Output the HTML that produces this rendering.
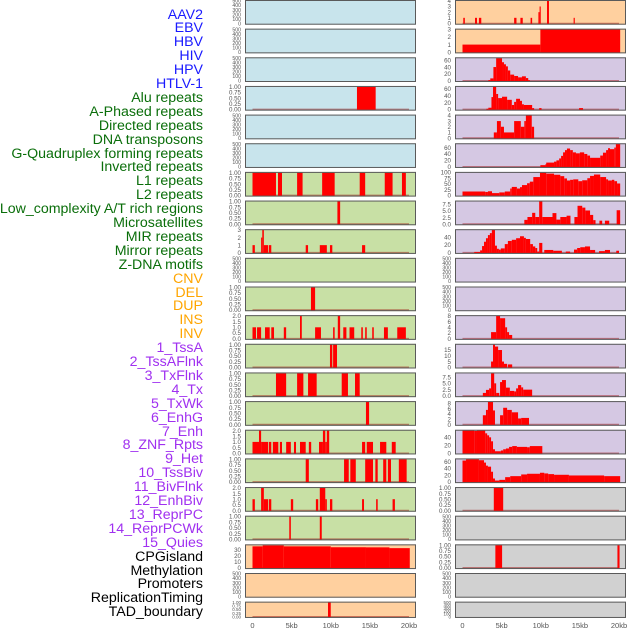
<!DOCTYPE html>
<html><head><meta charset="utf-8"><style>
html,body{margin:0;padding:0;background:#fff;}
body{width:630px;height:630px;overflow:hidden;position:relative;font-family:"Liberation Sans",sans-serif;}
.lab{position:absolute;right:427px;font-size:14.2px;line-height:14px;white-space:nowrap;text-align:right;}
svg{position:absolute;left:0;top:0;}
</style></head><body>
<div id="labels"></div>
<svg id="chart" width="630" height="630"></svg>
<script>
// ---- labels ----
const labelNames = ["AAV2","EBV","HBV","HIV","HPV","HTLV-1","Alu repeats","A-Phased repeats","Directed repeats","DNA transposons","G-Quadruplex forming repeats","Inverted repeats","L1 repeats","L2 repeats","Low_complexity A/T rich regions","Microsatellites","MIR repeats","Mirror repeats","Z-DNA motifs","CNV","DEL","DUP","INS","INV","1_TssA","2_TssAFlnk","3_TxFlnk","4_Tx","5_TxWk","6_EnhG","7_Enh","8_ZNF_Rpts","9_Het","10_TssBiv","11_BivFlnk","12_EnhBiv","13_ReprPC","14_ReprPCWk","15_Quies","CPGisland","Methylation","Promoters","ReplicationTiming","TAD_boundary"];
const labelGroups = [6,13,5,15,5];
const groupColors = ["#1a1aff","#0a6e0a","#ffa500","#a030f0","#000000"];

// ---- data: [start_kb, end_kb, value] ----
const L3_alu = [[13.35,15.74,1]];
const L6_l1 = [[0,3.0,1],[3.26,3.77,1],[5.7,6.4,1],[8.9,10.5,1],[13.7,14.4,1],[16.9,17.9,1],[19.1,19.6,1]];
const L7_lowc = [[10.85,11.2,1]];
const L8_micro = [[0,0.3,1],[1.1,1.25,2],[1.25,1.45,3],[1.45,2.0,1],[2.1,2.4,1],[6.8,7.1,1],[8.6,9.5,1],[9.9,10.2,1],[14.0,14.4,1]];
const L10_cnv = [[7.47,8.0,1]];
const L11_dup = [[0,0.45,1],[0.58,1.1,1],[1.6,2.2,1],[2.4,2.75,1],[4.0,4.3,1],[6.07,6.3,2],[8.0,8.75,1],[10.3,10.5,1],[10.9,11.2,2],[11.6,12.0,1],[12.4,13.0,1],[13.9,14.1,1],[14.4,14.6,1],[15.3,15.5,1],[16.8,17.3,1],[18.5,19.6,1]];
const L12_ins = [[9.9,10.2,1],[10.3,10.8,1]];
const L13_inv = [[3.0,4.3,1],[5.7,6.5,1],[7.1,8.2,1],[11.4,12.2,1],[13.1,13.7,1]];
const L14_tssa = [[14.5,14.9,1]];
const L15_tssaf = [[0,0.83,1],[0.83,1.1,2],[1.1,2.0,1],[2.1,2.4,1],[2.6,3.3,1],[3.5,3.77,1],[4.3,4.9,1],[5.3,5.56,1],[6.07,6.8,1],[7.2,7.5,1],[8.5,9.0,1],[9.0,9.3,2],[9.3,9.5,1],[9.5,9.8,2],[14.0,14.4,1],[14.6,15.4,1],[16.3,17.1,1],[17.8,18.3,1]];
const L16_txflnk = [[6.8,7.2,1],[11.7,12.3,1],[12.5,13.2,1],[14.4,15.4,1],[15.7,16.0,1],[16.7,17.1,1],[17.3,17.7,1],[18.7,19.7,1]];
const L17_tx = [[0,0.3,1],[1.1,1.45,2],[1.45,2.0,1],[2.1,2.4,1],[4.9,5.2,1],[8.1,8.4,1],[8.6,9.3,2],[9.3,9.5,1],[9.9,10.2,1],[14.0,14.25,1],[15.8,16.0,1],[17.9,18.2,1]];
const L18_txwk = [[4.7,4.9,1],[8.6,8.85,1]];
const L19_cpg = [[0,1.3,36],[1.3,4.0,37.5],[4.0,10.0,36],[10.0,14.5,34.5],[14.5,17.5,34.3],[17.5,20.1,33]];
const L21_tad = [[9.65,10.0,1]];

const R0_aav2 = [[0.1,0.3,1],[1.6,1.85,1],[2.1,2.4,1],[6.6,6.9,1],[7.4,7.7,1],[8.7,8.9,1],[9.7,9.85,2],[9.85,10.0,3],[10.8,11.05,4],[14.2,14.35,1]];
const R1_ebv = [[0,9.95,1],[9.95,20.15,3]];
const R2_hiv = [[3.3,3.55,2],[3.55,3.95,7],[3.95,4.3,40],[4.3,5.05,66],[5.05,5.3,54],[5.3,5.55,48],[5.55,5.8,42],[5.8,6.1,30],[6.1,6.6,18],[6.6,7.1,14],[7.1,7.6,10],[7.6,8.1,13],[8.1,8.4,8],[8.4,8.6,2]];
const R3_hpv = [[3.05,3.3,2],[3.3,3.7,5],[3.7,3.9,36],[3.9,4.3,66],[4.3,4.55,45],[4.55,5.05,33],[5.05,5.7,37],[5.7,6.3,28],[6.3,6.6,13],[6.6,6.85,22],[6.85,7.35,31],[7.35,7.6,25],[7.6,7.85,15],[7.85,8.9,13],[8.9,9.15,4],[9.8,10.1,4],[14.9,15.4,4]];
const R4_htlv = [[4.0,4.4,1],[4.4,4.9,3],[4.9,5.3,2],[5.3,5.75,1],[5.75,6.6,1],[6.6,7.45,3],[7.45,7.9,2],[7.9,8.1,3],[8.1,8.85,4],[8.85,9.15,2]];
const R5_alu = [[9.95,10.6,5],[10.6,10.7,8],[10.7,11.7,13],[11.7,12.0,16],[12.0,12.35,20],[12.35,12.6,26],[12.6,12.85,34],[12.85,13.1,45],[13.1,13.35,52],[13.35,13.75,57],[13.75,14.1,52],[14.1,14.5,45],[14.5,15.0,42],[15.0,15.55,45],[15.55,15.95,40],[15.95,16.3,35],[16.3,17.6,28],[17.6,17.95,35],[17.95,18.35,44],[18.35,18.6,52],[18.6,18.85,58],[18.85,19.4,55],[19.4,19.6,60],[19.6,20.15,71]];
const R6_l1 = [[0,2.9,17],[2.9,3.25,15],[3.25,3.77,18],[3.77,4.7,10],[4.7,5.4,13],[5.4,6.1,17],[6.1,6.3,30],[6.3,6.95,37],[6.95,7.35,30],[7.35,7.6,36],[7.6,8.25,45],[8.25,8.6,53],[8.6,9.05,60],[9.05,9.9,80],[9.9,10.7,99],[10.7,11.7,95],[11.7,12.5,90],[12.5,13.0,84],[13.0,13.35,74],[13.35,13.75,65],[13.75,14.15,68],[14.15,14.8,70],[14.8,15.3,62],[15.3,15.95,66],[15.95,16.3,75],[16.3,16.8,85],[16.8,17.6,91],[17.6,18.35,80],[18.35,18.6,70],[18.6,19.1,65],[19.1,19.4,68],[19.4,19.75,62],[19.75,20.15,52]];
const R7_lowc = [[7.9,8.3,1.6],[8.3,8.9,2.7],[8.9,9.3,4.3],[9.3,9.8,2.7],[9.8,10.2,8.7],[10.2,11.5,2.7],[11.5,12.0,4.2],[12.0,12.5,1.7],[12.5,13.3,2.7],[13.3,13.8,3.2],[14.3,14.7,2.7],[14.7,15.3,7],[15.3,15.7,6.3],[15.7,16.3,5.2],[16.3,16.7,3.5],[16.7,17.0,1.5],[17.5,17.85,1.3],[18.2,18.75,1.3],[19.7,20.15,5.3]];
const R8_mir = [[1.5,2.25,2],[2.25,2.5,6],[2.5,2.75,17],[2.75,3.0,28],[3.0,3.25,37],[3.25,3.5,45],[3.5,3.75,50],[3.75,4.15,58],[4.15,4.4,18],[4.4,4.65,10],[4.65,4.9,8],[4.9,5.4,11],[5.4,5.8,22],[5.8,6.3,30],[6.3,6.85,33],[6.85,7.35,37],[7.35,7.85,42],[7.85,8.1,38],[8.1,8.65,35],[8.65,9.0,22],[9.0,9.3,16],[9.3,9.55,12],[9.55,9.8,3],[9.8,10.2,25],[10.45,11.6,7],[11.6,12.7,5],[13.2,13.75,3],[14.25,14.65,8],[14.65,15.05,12],[15.05,15.65,14],[15.65,16.3,16],[16.3,16.95,7],[17.45,18.2,4],[18.2,18.85,7],[19.65,20.0,5]];
const R11_tssa = [[3.65,4.3,2.3],[4.3,4.8,8],[4.8,5.45,7.2],[5.45,5.7,4],[5.7,5.95,2.3],[5.95,6.35,1.3]];
const R12_tssaf = [[3.65,3.9,5],[3.9,4.15,19.7],[4.15,4.55,18],[4.55,5.05,15],[5.05,5.3,5],[5.3,5.7,3],[5.8,6.35,2.5]];
const R13_txflnk = [[2.6,3.0,1.2],[3.0,3.4,2.4],[3.4,3.65,3],[3.65,4.05,9],[4.05,4.3,5],[4.3,4.7,1.2],[4.8,5.05,5.5],[5.05,5.55,6.3],[5.55,6.05,3.3],[6.05,6.6,2],[6.6,6.85,1.8],[6.85,7.1,3],[7.1,7.5,4.3],[7.5,7.75,3.4],[7.75,8.9,2.5]];
const R14_tx = [[2.6,3.0,3.5],[3.0,3.25,5.5],[3.25,3.9,8.5],[3.9,4.15,5.3],[4.8,5.2,3.5],[5.2,5.7,6.3],[5.7,6.3,5.5],[6.3,7.1,4.6],[7.1,7.5,2.3],[7.5,8.5,2.5]];
const R15_txwk = [[0,1.5,57],[1.5,1.85,56],[1.85,2.9,57],[2.9,3.15,50],[3.15,3.4,45],[3.4,3.65,40],[3.65,3.9,30],[3.9,4.15,10],[4.15,4.9,5],[4.9,5.2,7],[5.2,5.55,10],[5.55,5.95,12],[5.95,6.35,16],[6.35,6.95,18],[6.95,8.25,16],[8.25,8.6,15],[8.6,10.2,18]];
const R16_enhg = [[0,0.45,63],[0.45,2.1,67],[2.1,2.75,64],[2.75,3.0,57],[3.0,3.25,48],[3.25,3.65,45],[3.65,3.9,30],[3.9,4.15,10],[4.15,4.7,4],[4.7,5.45,6],[5.45,6.1,14],[6.1,7.5,17],[7.5,8.25,22],[8.25,9.9,24],[9.9,10.45,27],[10.45,10.95,25],[10.95,11.7,23],[11.7,13.6,21],[13.6,18.1,19],[18.1,20.15,17]];
const R17_enh = [[4.0,5.2,1]];
const R19_het = [[4.2,5.06,1],[19.8,20.07,1]];

// ---- tick label arrays ----
const T_empty = [0,100,200,300,400,500];
const T_frac = [0,0.25,0.5,0.75,1];
const T_half = [0,0.5,1,1.5,2];
const T_int3 = [0,1,2,3];
const T_int4 = [0,1,2,3,4];
const T_60 = [0,20,40,60];
const T_40 = [0,20,40];
const T_100 = [0,25,50,75,100];
const T_75 = [0,2.5,5,7.5];
const T_8 = [0,2,4,6,8];
const T_15 = [0,5,10,15];
const T_30 = [0,10,20,30];
const xTickVals = [0,5,10,15,20];
const xTickText = ["0","5kb","10kb","15kb","20kb"];

const BG = {blue:"#c8e4ec",green:"#c8e0a5",orange:"#ffd09f",purple:"#d5c8e3",gray:"#d1d1d1"};
const leftPanels = [
 ["blue",null,T_empty,0,500],["blue",null,T_empty,0,500],["blue",null,T_empty,0,500],
 ["blue",L3_alu,T_frac,2,1],["blue",null,T_empty,0,500],["blue",null,T_empty,0,500],
 ["green",L6_l1,T_frac,2,1],["green",L7_lowc,T_frac,2,1],["green",L8_micro,T_int3,0,3],
 ["green",null,T_empty,0,500],["green",L10_cnv,T_frac,2,1],["green",L11_dup,T_half,1,2],
 ["green",L12_ins,T_frac,2,1],["green",L13_inv,T_frac,2,1],["green",L14_tssa,T_frac,2,1],
 ["green",L15_tssaf,T_half,1,2],["green",L16_txflnk,T_frac,2,1],["green",L17_tx,T_half,1,2],
 ["green",L18_txwk,T_frac,2,1],["orange",L19_cpg,T_30,0,38],["orange",null,T_empty,0,500],
 ["orange",L21_tad,T_frac,2,1]];
const rightPanels = [
 ["orange",R0_aav2,T_int4,0,4],["orange",R1_ebv,T_int3,0,3],["purple",R2_hiv,T_60,0,66],
 ["purple",R3_hpv,T_60,0,66],["purple",R4_htlv,T_int4,0,4],["purple",R5_alu,T_60,0,71],
 ["purple",R6_l1,T_100,0,99],["purple",R7_lowc,T_75,1,8.7],["purple",R8_mir,T_40,0,58],
 ["purple",null,T_empty,0,500],["purple",null,T_empty,0,500],["purple",R11_tssa,T_8,0,8],
 ["purple",R12_tssaf,T_15,0,19.7],["purple",R13_txflnk,T_75,1,9],["purple",R14_tx,T_8,0,8.5],
 ["purple",R15_txwk,T_40,0,57],["purple",R16_enhg,T_60,0,67],["gray",R17_enh,T_frac,2,1],
 ["gray",null,T_empty,0,500],["gray",R19_het,T_frac,2,1],["gray",null,T_empty,0,500],
 ["gray",null,T_empty,0,500]];

// ---- labels ----
const labDiv = document.getElementById('labels');
let gi=0, gc=0;
labelNames.forEach((n,i)=>{
  const d=document.createElement('div');
  d.className='lab';
  d.textContent=n;
  while(gc>=labelGroups[gi]){gc=0;gi++;}
  gc++;
  d.style.color=groupColors[gi];
  d.style.top=(15+i*13.9-7.5)+'px';
  
  
  labDiv.appendChild(d);
});

// ---- chart ----
const svg=document.getElementById('chart');
const NS="http://www.w3.org/2000/svg";
function mk(tag,attrs,parent){const e=document.createElementNS(NS,tag);for(const k in attrs)e.setAttribute(k,attrs[k]);(parent||svg).appendChild(e);return e;}
const colLeft=[245,455];
function xScale(col,kb){return colLeft[col]+7.5+kb*7.825;}
function rowTop(i){return i*28.65;}
function rowH(i){return i===21?16.3:24.7;}
function fmt(v,dec){return v.toFixed(dec);}

[leftPanels,rightPanels].forEach((panels,col)=>{
  panels.forEach((p,i)=>{
    const [bgk,data,ticks,dec,ymax]=p;
    const top=rowTop(i),h=rowH(i),left=colLeft[col];
    const g=mk('g',{});
    
    
    mk('rect',{x:left,y:top,width:171,height:h,fill:BG[bgk]},g);
    const y0=top+h-1.2, y1=top+0.8;
    const yScale=v=>y0-(v/ymax)*(y0-y1);
    const fs = i===21?4.5:(ticks===T_empty?5.2:6.2);
    ticks.forEach(t=>{
      const tx=mk('text',{x:left-4,y:yScale(t)+fs*0.36,'font-size':fs,'text-anchor':'end',fill:'#555','font-family':'Liberation Sans, sans-serif'},g);
      tx.textContent=fmt(t,dec);
      
      
    });
    if(data){
      const bl=mk('line',{x1:xScale(col,0),x2:xScale(col,20),y1:y0,y2:y0,stroke:'rgba(150,0,0,0.45)','stroke-width':1.6},g);
      
      
      data.forEach(s=>{
        const x1=xScale(col,s[0]),x2=xScale(col,s[1]);
        const r=mk('rect',{x:x1,y:yScale(s[2]),width:Math.max(x2-x1,1),height:y0-yScale(s[2])+0.6,fill:'#ff0000'},g);
        
        
      });
    }
    mk('rect',{x:left+0.5,y:top+0.5,width:170,height:h-1,fill:'none',stroke:'#5a5a5a','stroke-width':1},g);
  });
  xTickVals.forEach((v,k)=>{
    const t=mk('text',{x:xScale(col,v),y:628,'font-size':7.5,'text-anchor':'middle',fill:'#555','font-family':'Liberation Sans, sans-serif'});
    t.textContent=xTickText[k];
    
    
  });
});
</script>
</body></html>
